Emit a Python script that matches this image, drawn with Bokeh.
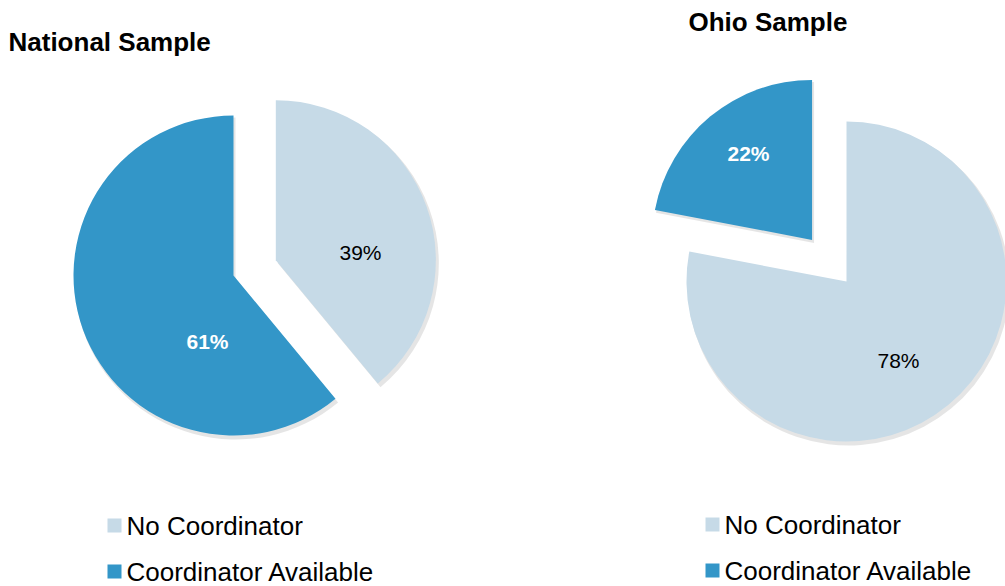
import math
from bokeh.plotting import figure
from bokeh.models import Range1d, ColumnDataSource
from bokeh.core.properties import value
from bokeh.embed import file_html
from bokeh.resources import INLINE

# ---- data ----
categories = ["No Coordinator", "Coordinator Available"]
national_values = [39, 61]
ohio_values = [78, 22]
colors = ["#C6DAE7", "#3396C8"]
label_colors = ["#000000", "#FFFFFF"]
label_styles = ["normal", "bold"]
titles = ["National Sample", "Ohio Sample"]

# ---- layout (data units == pixels) ----
W, H = 1005, 586
FONT = "Liberation Sans"


def X(px):
    return px


def Y(py):
    return H - py


p = figure(width=W, height=H, x_range=Range1d(0, W), y_range=Range1d(0, H),
           output_backend="svg", toolbar_location=None, min_border=0)
p.axis.visible = False
p.grid.visible = False
p.outline_line_color = None
p.background_fill_color = "white"


def draw_pie(cx, cy, r, vals, explode, label_xy):
    total = float(sum(vals))
    cum = 0.0
    src = dict(x=[], y=[], start=[], end=[], color=[])
    for i, v in enumerate(vals):
        f0 = cum / total
        f1 = (cum + v) / total
        cum += v
        start = math.pi / 2 - 2 * math.pi * f1
        end = math.pi / 2 - 2 * math.pi * f0
        mid = (start + end) / 2
        src["x"].append(cx + explode[i] * math.cos(mid))
        src["y"].append(cy + explode[i] * math.sin(mid))
        src["start"].append(start)
        src["end"].append(end)
        src["color"].append(colors[i])
    shadow = dict(src)
    shadow["x"] = [x + 2 for x in src["x"]]
    shadow["y"] = [y - 3 for y in src["y"]]
    p.wedge(x="x", y="y", radius=r + 1, start_angle="start", end_angle="end",
            source=ColumnDataSource(shadow), fill_color="#000000", fill_alpha=0.10,
            line_color=None)
    p.wedge(x="x", y="y", radius=r, start_angle="start", end_angle="end",
            source=ColumnDataSource(src), fill_color="color", line_color=None)
    for i, v in enumerate(vals):
        p.text(x=[label_xy[i][0]], y=[label_xy[i][1]], text=[f"{v}%"],
               text_font=value(FONT), text_font_size="21px",
               text_font_style=label_styles[i], text_color=label_colors[i],
               text_align="center", text_baseline="middle")


# National pie
draw_pie(X(233), Y(275), 160, national_values, [45, 0],
         [(X(360), Y(252)), (X(207), Y(341))])
# Ohio pie
draw_pie(X(846), Y(281), 160, ohio_values, [0, 54],
         [(X(898), Y(360)), (X(748), Y(153))])

# titles
p.text(x=[X(8), X(688)], y=[Y(41), Y(21)], text=titles,
       text_font=value(FONT), text_font_size="26px", text_font_style="bold",
       text_color="#000000", text_align="left", text_baseline="middle")

# legends
legend_x = [X(114), X(712)]
legend_y = [[Y(525), Y(571)], [Y(524), Y(570)]]
for lx, ly in zip(legend_x, legend_y):
    p.rect(x=[lx, lx], y=ly, width=14, height=14, fill_color=colors, line_color=None)
    p.text(x=[lx + 12, lx + 12], y=ly, text=categories,
           text_font=value(FONT), text_font_size="26px",
           text_color="#000000", text_align="left", text_baseline="middle")

open("out.html", "w").write(file_html(p, INLINE))
